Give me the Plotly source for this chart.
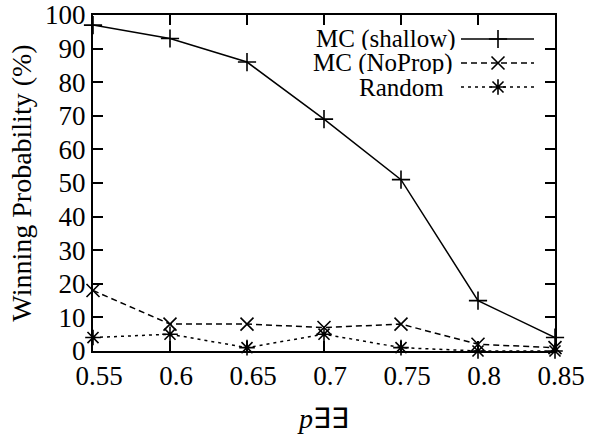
import plotly.graph_objects as go

x_vals = [0.55, 0.6, 0.65, 0.7, 0.75, 0.8, 0.85]
mc_shallow = [97, 93, 86, 69, 51, 15, 4]
mc_noprop = [18, 8, 8, 7, 8, 2, 1]
random_vals = [4, 5, 1, 5, 1, 0, 0]
series_names = ["MC (shallow)", "MC (NoProp)", "Random"]
x_ticks = [0.55, 0.6, 0.65, 0.7, 0.75, 0.8, 0.85]
x_ticklabels = ["0.55", "0.6", "0.65", "0.7", "0.75", "0.8", "0.85"]
y_ticks = list(range(0, 101, 10))

FONT = "Liberation Serif"
styles = [
    dict(dash="solid", symbol="cross-thin"),
    dict(dash="6px,4px", symbol="x-thin"),
    dict(dash="3px,4px", symbol="asterisk"),
]

fig = go.Figure()
for name, ys, st in zip(series_names, [mc_shallow, mc_noprop, random_vals], styles):
    fig.add_trace(go.Scatter(
        x=x_vals, y=ys, mode="lines+markers", name=name,
        line=dict(color="black", width=1.5, dash=st["dash"]),
        marker=dict(symbol=st["symbol"], size=13, color="black",
                    line=dict(color="black", width=1.6)),
        showlegend=False, cliponaxis=False,
    ))

# custom legend (text left of sample, gnuplot style) on an overlay axis
W, H = 613, 434
L, R, T, B = 93, 58, 15, 83
pw, ph = W - L - R, H - T - B
def fx(px):
    return (px - L) / pw
def fy(py):
    return (H - B - py) / ph

leg_rows = [39, 63, 87]
text_right = [458, 455, 446]
for i, (name, st) in enumerate(zip(series_names, styles)):
    yy = fy(leg_rows[i])
    fig.add_trace(go.Scatter(
        x=[fx(461), fx(534)], y=[yy, yy], mode="lines",
        line=dict(color="black", width=1.5, dash=st["dash"]),
        xaxis="x2", yaxis="y2", showlegend=False, hoverinfo="skip"))
    fig.add_trace(go.Scatter(
        x=[fx(498)], y=[yy], mode="markers",
        marker=dict(symbol=st["symbol"], size=13, color="black",
                    line=dict(color="black", width=1.6)),
        xaxis="x2", yaxis="y2", showlegend=False, hoverinfo="skip"))
    fig.add_annotation(
        x=fx(text_right[i]), y=yy, xref="x2", yref="y2", text=name,
        showarrow=False, xanchor="right", yanchor="middle", height=22,
        font=dict(family=FONT, size=25, color="black"))

fig.update_layout(
    width=W, height=H,
    margin=dict(l=L, r=R, t=T, b=B, pad=0, autoexpand=False),
    paper_bgcolor="white", plot_bgcolor="white",
    font=dict(family=FONT, size=26, color="black"),
    xaxis=dict(range=[0.55, 0.85], tickvals=x_ticks, ticktext=x_ticklabels,
               ticks="inside", ticklen=10, tickwidth=1.5, tickcolor="black",
               showline=True, linecolor="black", linewidth=2, mirror="ticks",
               showgrid=False, zeroline=False, automargin=False,
               ticklabelshift=6,
               tickfont=dict(family=FONT, size=27),
               title=dict(text="<i>p</i>∃∃", standoff=18,
                          font=dict(family=FONT, size=28))),
    yaxis=dict(range=[0, 100], tickvals=y_ticks,
               ticks="inside", ticklen=10, tickwidth=1.5, tickcolor="black",
               showline=True, linecolor="black", linewidth=2, mirror="ticks",
               showgrid=False, zeroline=False, automargin=False,
               tickfont=dict(family=FONT, size=27),
               title=dict(text="Winning Probability (%)", standoff=5,
                          font=dict(family=FONT, size=28))),
    xaxis2=dict(overlaying="x", range=[0, 1], visible=False, fixedrange=True),
    yaxis2=dict(overlaying="y", range=[0, 1], visible=False, fixedrange=True),
)

fig.write_html("out.html", config={"displayModeBar": False},
               post_script="document.body.style.margin='0';document.body.style.padding='0';")
